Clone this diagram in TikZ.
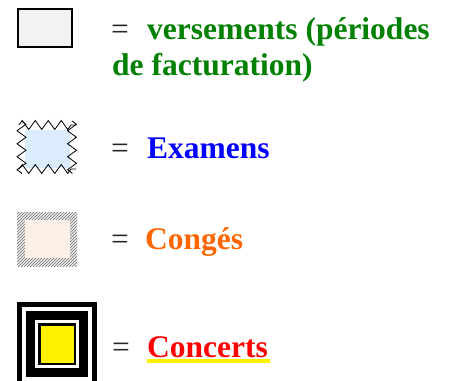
\documentclass[tikz,border=0pt]{standalone}
\usepackage{fontspec}
\setmainfont{Liberation Serif}
\usetikzlibrary{decorations.pathmorphing,patterns}
\definecolor{versgreen}{RGB}{0,128,0}
\definecolor{examblue}{RGB}{0,0,255}
\definecolor{congeorange}{RGB}{255,102,0}
\definecolor{concertred}{RGB}{255,0,0}
\definecolor{examfill}{RGB}{219,236,255}
\definecolor{congefill}{RGB}{253,240,230}
\begin{document}
\begin{tikzpicture}[x=1pt,y=-1pt]
\tikzstyle{legtext}=[anchor=base west, inner sep=0pt, font=\fontsize{31.5}{36}\selectfont\bfseries]
\tikzstyle{equal}=[anchor=base west, inner sep=0pt, font=\fontsize{31.5}{36}\selectfont, text=black!85]
\tikzstyle{zig}=[line width=0.8pt, decorate, decoration={zigzag, segment length=13pt, amplitude=4.5pt}]

\useasboundingbox (0,0) rectangle (451,381);

\draw[line width=2pt, fill=black!5] (18,9) rectangle (72,47);

\fill[examfill] (25,130) rectangle (70,168);
\draw[zig] (19,125) -- (76,125);
\draw[zig] (19,169) -- (76,169);
\draw[zig] (21.5,121) -- (21.5,174);
\draw[zig] (72,121) -- (72,174);

\fill[black!8] (17,212) rectangle (77,266);
\fill[pattern=north east lines, pattern color=black!55] (17,212) rectangle (77,266);
\fill[congefill] (25,220) rectangle (70,258);

\begin{scope}
\clip (0,0) rectangle (451,381);
\fill[black] (17,302) rectangle (97,386);
\fill[white] (22,307) rectangle (92,381);
\fill[black] (26,311) rectangle (88,377);
\fill[white] (35,320) rectangle (79,368);
\fill[black] (38,323) rectangle (76,365);
\fill[yellow] (41,326) rectangle (74,363);
\end{scope}

\node[equal] (eq1) at (111,39) {=};
\node[legtext, text=versgreen] (vers) at (147,39) {versements (périodes};
\node[legtext, text=versgreen] (vers2) at (112,75) {de facturation)};

\node[equal] (eq2) at (111,158) {=};
\node[legtext, text=examblue] (exam) at (147,158) {Examens};

\node[equal] (eq3) at (111,249) {=};
\node[legtext, text=congeorange] (conge) at (145,249) {Congés};

\node[equal] (eq4) at (112,357) {=};
\node[legtext, text=concertred] (concert) at (147,357) {Concerts};
\draw[yellow, line width=4pt] ([yshift=-4pt]concert.base west) -- ([yshift=-4pt, xshift=2pt]concert.base east);
\end{tikzpicture}
\end{document}
